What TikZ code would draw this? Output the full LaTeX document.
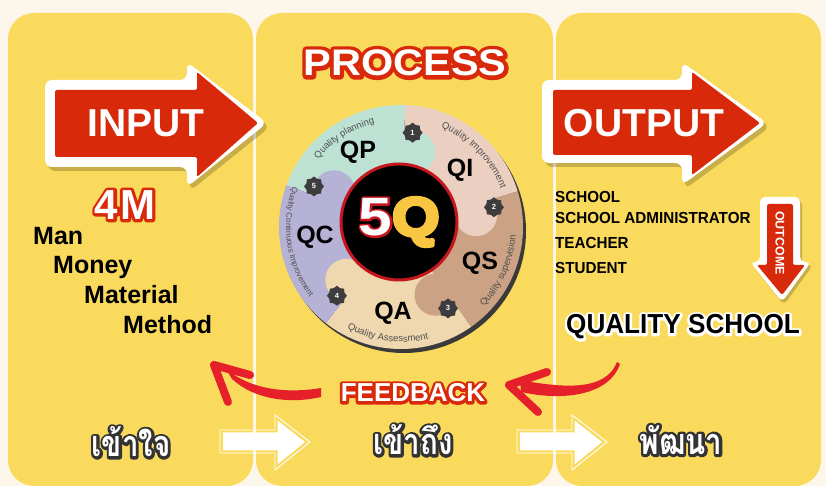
\documentclass[tikz,border=0pt]{standalone}
\usepackage{fontspec}
\usetikzlibrary{calc,shapes.geometric,decorations.text}
\newfontfamily\lib{Liberation Sans}
\newfontfamily\libw[FakeStretch=1.12]{Liberation Sans}
\newfontfamily\libn[FakeStretch=0.95]{Liberation Sans}
\newfontfamily\thaifont[Script=Thai,FakeStretch=0.82]{Loma}
\definecolor{bgc}{HTML}{FDF6EA}
\definecolor{panelc}{HTML}{FADA5C}
\definecolor{arrred}{HTML}{D8290A}
\definecolor{fbred}{HTML}{E5202A}
\definecolor{qpc}{HTML}{BDE2D3}
\definecolor{qic}{HTML}{EBCFC0}
\definecolor{qsc}{HTML}{CBA384}
\definecolor{qac}{HTML}{EFD8AF}
\definecolor{qcc}{HTML}{B5B2D5}
\definecolor{rim}{HTML}{3A3A3A}
\definecolor{arcg}{HTML}{505050}
\definecolor{badgec}{HTML}{3D3D3D}
\definecolor{qyel}{HTML}{F8C640}
\definecolor{ringc}{HTML}{C4161C}
\definecolor{thaiol}{HTML}{333333}
% outlined text: stroked copy (text render mode 2) under a plain filled copy
\newcommand{\otext}[7]{%
  \node[font=#3, text=#4, inner sep=0pt] (#1-ol) at (#2) {\special{pdf:literal direct 2 Tr #6 w 1 j}#7\special{pdf:literal direct 0 Tr}};
  \node[font=#3, text=#5, inner sep=0pt] (#1) at (#2) {#7};}
\newcommand{\arcf}{\lib\fontsize{9.5}{10}\selectfont}
\newcommand{\arcfs}{\lib\fontsize{8}{9}\selectfont}
\begin{document}
\begin{tikzpicture}[x=1pt,y=1pt,
  panel/.style={fill=panelc, rounded corners=26pt},
  bigarrow/.style={fill=white, rounded corners=7pt},
  redarrow/.style={fill=arrred, rounded corners=2pt},
  shadowed/.style={fill=black, opacity=0.2, rounded corners=7pt},
  waout/.style={draw=white, line width=0.9pt},
  wafill/.style={fill=white},
  badge/.style={star, star points=8, star point ratio=1.22, minimum size=20pt, inner sep=0pt, fill=badgec, text=white, font=\lib\bfseries\fontsize{7.5}{7.5}\selectfont},
  qlabel/.style={font=\lib\bfseries\fontsize{25}{25}\selectfont, text=black, inner sep=0pt},
  mlist/.style={anchor=west, font=\lib\bfseries\fontsize{25}{25}\selectfont, inner sep=0pt},
  rlist/.style={anchor=west, font=\libn\bfseries\fontsize{16}{16}\selectfont, inner sep=0pt},
  arctext/.style={decorate, decoration={text along path, text align=center, text color=arcg, text={#1}}},
  fbarrow/.style={draw=fbred, line width=8pt, line cap=round, line join=round}]
\useasboundingbox (0,0) rectangle (826,486);
\fill[bgc] (0,0) rectangle (826,486);
% panels
\fill[panel] (8,0) rectangle (253,473);
\fill[panel] (256,0) rectangle (553,473);
\fill[panel] (556,0) rectangle (821,473);

% INPUT arrow
\fill[shadowed, shift={(3,-4)}] (45,406) -- (187,406) -- (187,424) -- (267,363) -- (187,299) -- (187,319) -- (45,319) -- cycle;
\fill[bigarrow] (45,406) -- (187,406) -- (187,424) -- (267,363) -- (187,299) -- (187,319) -- (45,319) -- cycle;
\fill[redarrow] (55,396) -- (197,396) -- (197,414) -- (258,363) -- (197,309) -- (197,329) -- (55,329) -- cycle;
\node[font=\lib\bfseries\fontsize{39}{39}\selectfont, text=white, inner sep=0pt] (input) at (146,363) {INPUT};

% OUTPUT arrow
\fill[shadowed, shift={(3,-4)}] (542,406) -- (682,406) -- (682,424) -- (767,363) -- (682,301) -- (682,323) -- (542,323) -- cycle;
\fill[bigarrow] (542,406) -- (682,406) -- (682,424) -- (767,363) -- (682,301) -- (682,323) -- (542,323) -- cycle;
\fill[redarrow] (553,396) -- (692,396) -- (692,414) -- (760,363) -- (692,311) -- (692,331) -- (553,331) -- cycle;
\node[font=\lib\bfseries\fontsize{39}{39}\selectfont, text=white, inner sep=0pt] (output) at (644,363) {OUTPUT};

% PROCESS title
\otext{process}{405,423}{\libw\bfseries\fontsize{37}{37}\selectfont}{arrred}{white}{8}{PROCESS}

% 4M and list
\otext{fourm}{125,281}{\lib\bfseries\fontsize{42}{42}\selectfont}{arrred}{white}{6}{4\kern2pt M}
\node[mlist] (man) at (33,250) {Man};
\node[mlist] (money) at (53,219) {Money};
\node[mlist] (material) at (84,191) {Material};
\node[mlist] (method) at (123,161) {Method};

% right list
\node[rlist] (school) at (555,289) {SCHOOL};
\node[rlist] (admin) at (555,268) {SCHOOL ADMINISTRATOR};
\node[rlist] (teacher) at (555,243) {TEACHER};
\node[rlist] (student) at (555,218) {STUDENT};

% OUTCOME arrow
\fill[shadowed, shift={(2,-3)}, rounded corners=5pt] (760,289) -- (800,289) -- (800,224) -- (811,224) -- (782,184) -- (750,224) -- (760,224) -- cycle;
\fill[bigarrow, rounded corners=5pt] (760,289) -- (800,289) -- (800,224) -- (811,224) -- (782,184) -- (750,224) -- (760,224) -- cycle;
\fill[redarrow] (767,282) -- (793,282) -- (793,221) -- (805,221) -- (782,191) -- (757,221) -- (767,221) -- cycle;
\node[rotate=-90, font=\lib\bfseries\fontsize{12.5}{13}\selectfont, text=white, inner sep=0pt] (outcome) at (780,243) {OUTCOME};

% QUALITY SCHOOL
\otext{qschool}{683,159}{\libn\bfseries\fontsize{27.5}{28}\selectfont}{white}{black}{5}{QUALITY SCHOOL}

% 5Q wheel
\fill[rim] (404,255) circle[radius=122];
\begin{scope}[shift={(401,259)}]
  \begin{scope}
    \clip (0,0) circle[radius=122];
    \fill[qpc] (0,0) -- (88:130) arc[start angle=88, end angle=160, radius=130] -- cycle;
    \fill[qic] (0,0) -- (17:130) arc[start angle=17, end angle=88, radius=130] -- cycle;
    \fill[qsc] (0,0) -- (-55:130) arc[start angle=-55, end angle=17, radius=130] -- cycle;
    \fill[qac] (0,0) -- (232:130) arc[start angle=232, end angle=305, radius=130] -- cycle;
    \fill[qcc] (0,0) -- (160:130) arc[start angle=160, end angle=232, radius=130] -- cycle;
    \fill[qpc] (80:76) circle[radius=21];
    \fill[qic] (9:76) circle[radius=21];
    \fill[qsc] (-63:76) circle[radius=21];
    \fill[qac] (224:76) circle[radius=21];
    \fill[qcc] (152:76) circle[radius=21];
  \end{scope}
  \path[arctext={|\arcf|Quality planning}] (157:107) arc[start angle=157, end angle=88, radius=107];
  \path[arctext={|\arcf|Quality Improvement}] (80:107) arc[start angle=80, end angle=9, radius=107];
  \path[arctext={|\arcf|Quality supervision}] (-60:115) arc[start angle=-60, end angle=12, radius=115];
  \path[arctext={|\arcf|Quality Assessment}] (226:115) arc[start angle=226, end angle=300, radius=115];
  \path[arctext={|\arcfs|Quality Continuous Improvement}] (145:115) arc[start angle=145, end angle=232, radius=115];
  \node[badge] (b1) at (83:95) {1};
  \node[badge] (b2) at (12:95) {2};
  \node[badge] (b3) at (-60:94) {3};
  \node[badge] (b4) at (227:94) {4};
  \node[badge] (b5) at (155:96) {5};
\end{scope}
\node[qlabel] (qp) at (358,334) {QP};
\node[qlabel] (qi) at (460,316) {QI};
\node[qlabel] (qs) at (480,223) {QS};
\node[qlabel] (qa) at (393,173) {QA};
\node[qlabel] (qc) at (315,249) {QC};
\node[circle, fill=black, draw=ringc, line width=3pt, minimum size=116pt, inner sep=0pt] (core) at (399,264) {};
\otext{fiveq}{399,264}{\libw\bfseries\fontsize{54}{54}\selectfont}{ringc}{white}{4}{5\textcolor{qyel}{Q}}

% FEEDBACK
\otext{feedback}{413,93}{\lib\bfseries\fontsize{26}{26}\selectfont}{arrred}{white}{5.5}{FEEDBACK}
\coordinate (fbRtail) at (617,124);
\coordinate (fbRtip) at (509,101);
\fill[fbred] (fbRtail) .. controls (606,96) and (568,97) .. (520,106) -- (521,94) .. controls (566,84) and (610,92) .. (620,122) -- cycle;
\draw[fbarrow] (547,114) -- (fbRtip) -- (538,74);
\coordinate (fbLtail) at (321,93);
\coordinate (fbLtip) at (214,121);
\fill[fbred] (321,98) .. controls (285,92) and (250,97) .. (226,117) -- (232,107) .. controls (255,86) and (290,82) .. (321,89) -- cycle;
\draw[fbarrow] (250,111) -- (fbLtip) -- (228,84);

% bottom white arrows
\draw[waout] (220,56) -- (275,56) -- (275,71) -- (310,44) -- (275,16) -- (275,33) -- (220,33) -- cycle;
\fill[wafill] (223,53.5) -- (277.5,53.5) -- (277.5,65.5) -- (305,44) -- (277.5,21.5) -- (277.5,35.5) -- (223,35.5) -- cycle;
\draw[waout] (517,56) -- (572,56) -- (572,71) -- (607,44) -- (572,16) -- (572,33) -- (517,33) -- cycle;
\fill[wafill] (520,53.5) -- (574.5,53.5) -- (574.5,65.5) -- (602,44) -- (574.5,21.5) -- (574.5,35.5) -- (520,35.5) -- cycle;

% Thai words
\otext{thai1}{131,44}{\thaifont\bfseries\fontsize{36}{36}\selectfont}{thaiol}{white}{5.5}{เข้าใจ}
\otext{thai2}{413,46}{\thaifont\bfseries\fontsize{36}{36}\selectfont}{thaiol}{white}{5.5}{เข้าถึง}
\otext{thai3}{681,46}{\thaifont\bfseries\fontsize{36}{36}\selectfont}{thaiol}{white}{5.5}{พัฒนา}
\end{tikzpicture}
\end{document}
